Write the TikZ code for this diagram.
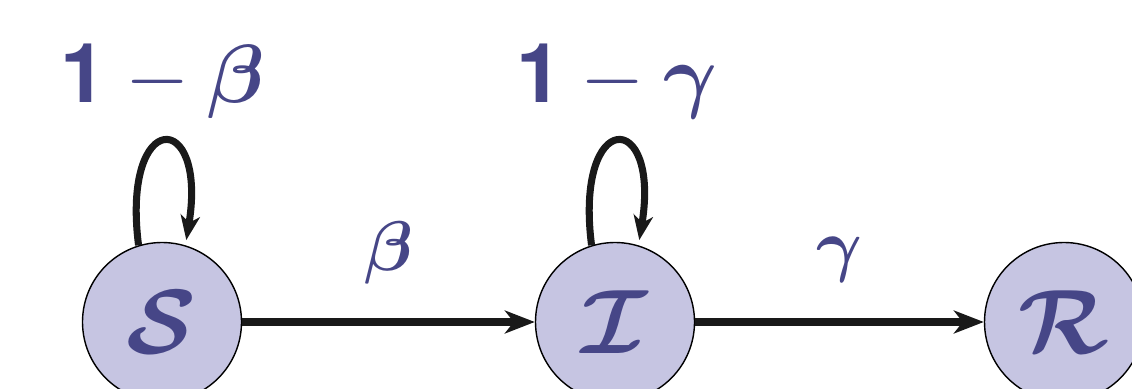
\RequirePackage{fix-cm}
\documentclass[tikz,border=0pt]{standalone}
\usepackage{fontspec}
\setsansfont{TeX Gyre Heros}
\usepackage{amsmath,bm}
\usetikzlibrary{arrows.meta, positioning}
\definecolor{statefill}{RGB}{198,197,226}
\definecolor{labelcol}{RGB}{70,70,135}

\begin{document}
\begin{tikzpicture}[
            % styles
            state/.style={circle, draw=black, line width=0.8pt, fill=statefill, minimum size=3.18cm, inner sep=0pt, text=labelcol, font=\fontsize{52}{56}\selectfont},
            rate/.style={text=labelcol, font=\fontsize{40}{44}\selectfont, anchor=base},
            stay/.style={text=labelcol, font=\fontsize{47}{52}\selectfont, anchor=base},
            flow/.style={line width=4pt, draw=black!90, -{Stealth[length=17pt, width=13pt, inset=5pt]}},
            selfloop/.style={line width=4pt, draw=black!90, -{Stealth[length=14pt, width=11pt, inset=4pt]}, shorten >=3pt}
        ]
        \useasboundingbox (0,0) rectangle (22.64,7.76);

        % compartments
        \node (sus) [state] at (3.24,1.32) {$\bm{\mathcal{S}}$};
        \node (inf) [state] at (12.30,1.32) {$\bm{\mathcal{I}}$};
        \node (rec) [state] at (21.28,1.32) {$\bm{\mathcal{R}}$};

        % transitions
        \draw [flow] (sus) -- (inf);
        \draw [flow] (inf) -- (rec);
        \node (beta)  [rate] at (7.77,2.36) {$\bm{\beta}$};
        \node (gamma) [rate] at (16.79,2.40) {$\bm{\gamma}$};

        % self loops
        \draw [selfloop] (sus.107) .. controls +(-0.35,2.75) and +(0.45,2.75) .. (sus.73);
        \draw [selfloop] (inf.107) .. controls +(-0.35,2.75) and +(0.45,2.75) .. (inf.73);
        \node (stayS) [stay] at (3.26,5.70) {$\textsf{\textbf{1}} - \bm{\beta}$};
        \node (stayI) [stay] at (12.34,5.70) {$\textsf{\textbf{1}} - \bm{\gamma}$};

\end{tikzpicture}
\end{document}
